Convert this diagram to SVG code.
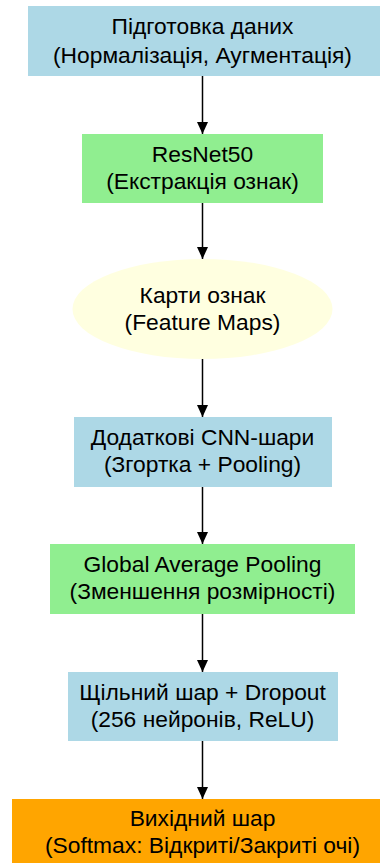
<svg xmlns="http://www.w3.org/2000/svg" width="380" height="863" viewBox="0 0 380 863">
<defs>
<marker id="ah" markerWidth="12" markerHeight="12" viewBox="0 0 12 12" refX="12" refY="6" orient="auto" markerUnits="userSpaceOnUse">
<path d="M0,0.5 L12,6 L0,11.5 Z" fill="#000"/>
</marker>
</defs>
<style>
.blue{fill:#ADD8E6}
.green{fill:#90EE90}
.yellow{fill:#FFFFE0}
.orange{fill:#FFA500}
text{font-family:"Liberation Sans",Arial,sans-serif;font-size:22.8px;fill:#000;text-anchor:middle}
.edge{stroke:#000;stroke-width:1.5;fill:none}
</style>
<rect width="380" height="863" fill="#fff"/>
<g id="connectors">
<line class="edge" x1="202.5" y1="76" x2="202.5" y2="134" marker-end="url(#ah)"/>
<line class="edge" x1="202.5" y1="203" x2="202.5" y2="259" marker-end="url(#ah)"/>
<line class="edge" x1="202.5" y1="359" x2="202.5" y2="417" marker-end="url(#ah)"/>
<line class="edge" x1="202.5" y1="487" x2="202.5" y2="544" marker-end="url(#ah)"/>
<line class="edge" x1="202.5" y1="614" x2="202.5" y2="672" marker-end="url(#ah)"/>
<line class="edge" x1="202.5" y1="741" x2="202.5" y2="799" marker-end="url(#ah)"/>
</g>
<g id="data_prep">
<rect class="blue" x="28" y="6" width="360" height="70"/>
<text x="202.5" y="34">Підготовка даних</text>
<text x="202.5" y="63">(Нормалізація, Аугментація)</text>
</g>
<g id="resnet">
<rect class="green" x="82" y="134" width="241" height="69"/>
<text x="202.5" y="162">ResNet50</text>
<text x="202.5" y="189">(Екстракція ознак)</text>
</g>
<g id="feature_maps">
<ellipse class="yellow" cx="202.5" cy="309" rx="130" ry="50"/>
<text x="202.5" y="303">Карти ознак</text>
<text x="202.5" y="330">(Feature Maps)</text>
</g>
<g id="cnn_layers">
<rect class="blue" x="74" y="417" width="258" height="70"/>
<text x="202.5" y="445">Додаткові CNN-шари</text>
<text x="202.5" y="472">(Згортка + Pooling)</text>
</g>
<g id="gap">
<rect class="green" x="50" y="544" width="305" height="70"/>
<text x="202.5" y="572">Global Average Pooling</text>
<text x="202.5" y="599">(Зменшення розмірності)</text>
</g>
<g id="dense">
<rect class="blue" x="68" y="672" width="270" height="69"/>
<text x="202.5" y="700">Щільний шар + Dropout</text>
<text x="202.5" y="727">(256 нейронів, ReLU)</text>
</g>
<g id="output">
<rect class="orange" x="12" y="799" width="380" height="70"/>
<text x="202.5" y="826">Вихідний шар</text>
<text x="202.5" y="853">(Softmax: Відкриті/Закриті очі)</text>
</g>
</svg>
